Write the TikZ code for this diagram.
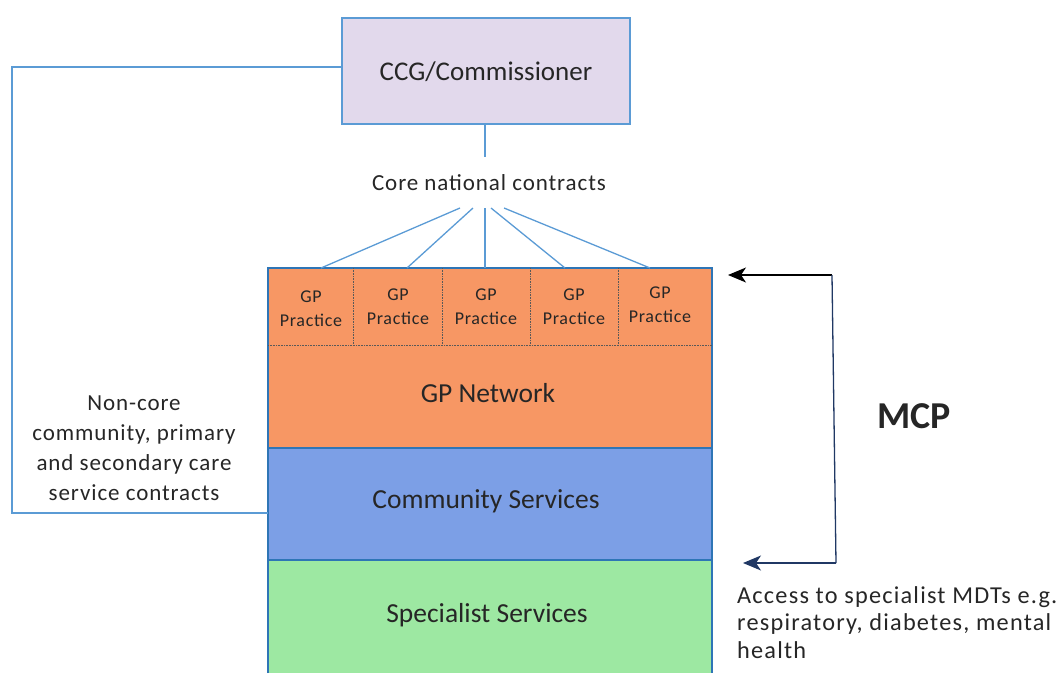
\documentclass[tikz,border=0pt]{standalone}
\usepackage{fontspec}
\setmainfont{Carlito}
\newfontfamily\loosefont[LetterSpace=4]{Carlito}
\newfontfamily\looserfont[LetterSpace=5]{Carlito}
\usetikzlibrary{arrows.meta}
\definecolor{lineblue}{HTML}{5B9BD5}
\definecolor{stackblue}{HTML}{2E75B6}
\definecolor{ccgfill}{HTML}{E2D9EC}
\definecolor{gporange}{HTML}{F79764}
\definecolor{commblue}{HTML}{7C9FE6}
\definecolor{specgreen}{HTML}{9DE8A2}
\definecolor{arrowdark}{HTML}{203864}
\tikzset{
  conn/.style={draw=lineblue, line width=1.3pt},
  layer/.style={draw=stackblue, line width=1.5pt},
  divider/.style={draw=gray!70!black, densely dotted, line width=0.6pt},
  lbl/.style={inner sep=0pt, align=center, text=black!85},
  tip/.style={-{Stealth[length=18pt,width=15pt,inset=5pt]}},
}
\begin{document}
\begin{tikzpicture}[x=1pt,y=-1pt]
\useasboundingbox (0,0) rectangle (1063,673);
% CCG box
\node[draw=lineblue, line width=1.5pt, fill=ccgfill, minimum width=288pt, minimum height=106pt, anchor=north west, inner sep=0pt] (ccg) at (341,17) {};
\node[lbl, font=\fontsize{27}{30}\selectfont] (ccgt) at (486,72) {CCG/Commissioner};
% core contracts label
\coordinate (ccgb) at (485,123);
\coordinate (corest) at (485,157);
\draw[conn] (ccgb) -- (corest);
\node[lbl, font=\loosefont\fontsize{23}{26}\selectfont] (core) at (489,183) {Core national contracts};
% layers
\fill[gporange] (268,268) rectangle (712,448);
\fill[commblue] (268,448) rectangle (712,560);
\fill[specgreen] (268,560) rectangle (712,673);
\coordinate (tl) at (268,268);
\coordinate (tr) at (712,268);
\coordinate (bl) at (268,673);
\coordinate (br) at (712,673);
\draw[layer] (bl) -- (tl) -- (tr) -- (br);
\draw[layer, line width=1.2pt] (268,448) -- (712,448);
\draw[layer, line width=1.2pt] (268,560) -- (712,560);
\draw[divider] (268,345) -- (712,345);
\foreach \x in {353,442,530,618} \draw[divider] (\x,268) -- (\x,345);
% GP practices
\foreach \i/\cx/\cy in {1/311/309,2/398/307,3/486/307,4/574/307,5/660/305}{
  \node[lbl, font=\loosefont\fontsize{18}{24}\selectfont] (gp\i) at (\cx,\cy) {GP\\Practice};
}
\coordinate (f1) at (321,268);
\coordinate (f2) at (407,268);
\coordinate (f3) at (485,268);
\coordinate (f4) at (565,268);
\coordinate (f5) at (650,268);
\coordinate (s1) at (460,208);
\coordinate (s2) at (473,208);
\coordinate (s3) at (485,208);
\coordinate (s4) at (491,208);
\coordinate (s5) at (504,208);
\foreach \i in {1,...,5} \draw[conn] (s\i) -- (f\i);
% layer labels
\node[lbl, font=\fontsize{27.5}{30}\selectfont] (gpn) at (488,393) {GP Network};
\node[lbl, font=\fontsize{27.5}{30}\selectfont] (comm) at (486,501) {Community Services};
\node[lbl, font=\fontsize{27.5}{30}\selectfont] (spec) at (487,615) {Specialist Services};
% left connector
\coordinate (c1) at (12,67);
\coordinate (c2) at (12,513);
\coordinate (c3) at (268,513);
\draw[conn] (ccg.west |- 0,67) -- (c1) -- (c2) -- (c3);
\node[lbl, font=\loosefont\fontsize{23}{30}\selectfont] (noncore) at (134,448) {Non-core\\community, primary\\and secondary care\\service contracts};
% MCP arrows
\coordinate (a0) at (832,275);
\coordinate (a1) at (728,275);
\coordinate (b0) at (836,563);
\coordinate (b1) at (743,563);
\draw[black, line width=1.3pt, tip] (a0) -- (a1);
\draw[arrowdark, line width=1.3pt] (a0) -- (b0);
\draw[arrowdark, line width=1.3pt, tip] (b0) -- (b1);
\node[lbl, font=\fontsize{38}{40}\selectfont\bfseries] (mcp) at (914,416) {MCP};
\node[lbl, align=left, anchor=north west, font=\looserfont\fontsize{24.3}{27.5}\selectfont] (access) at (737,586) {Access to specialist MDTs e.g.\\respiratory, diabetes, mental\\health};
\end{tikzpicture}
\end{document}
